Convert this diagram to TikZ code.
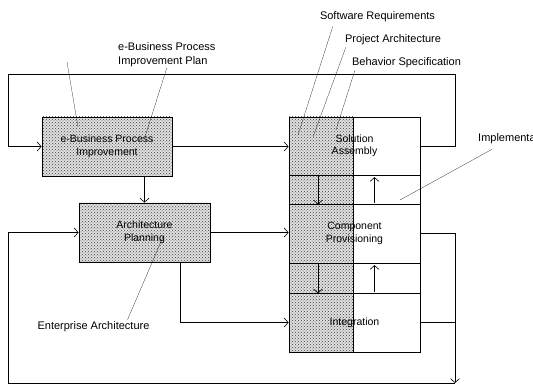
\documentclass[tikz,border=0pt]{standalone}
\usepackage{fontspec}
\setmainfont{Liberation Sans}
\usetikzlibrary{patterns,arrows.meta}

\tikzset{
  stipple/.style={preaction={fill=black!12}, pattern=crosshatch dots, pattern color=black!75},
  activity/.style={draw, thick, stipple, align=center, inner sep=0pt,
    minimum width=130pt, minimum height=59pt, font=\fontsize{10.5}{12.5}\selectfont},
  lane/.style={draw, thick, align=center, inner sep=0pt, minimum width=131pt,
    font=\fontsize{10.5}{12.5}\selectfont},
  flow/.style={semithick, ->},
  pointer/.style={very thin},
  lbl/.style={font=\fontsize{11}{14}\selectfont, align=left, inner sep=1pt}
}

\begin{document}
\begin{tikzpicture}[x=10pt,y=10pt,>={Straight Barb[length=4pt,width=9pt]}]
\useasboundingbox (0,0) rectangle (53.3,38.8);

% stippled left half of the phase column
\fill[stipple] (28.9,27.1) rectangle (35.3,3.6);

\node[activity] (ebpi) at (10.7,24.15) {e-Business Process\\Improvement};
\node[activity, minimum width=131pt] (arch) at (14.45,15.55) {Architecture\\Planning};

\node[lane, minimum height=58pt] (sa) at (35.45,24.2) {Solution\\Assembly};
\node[lane, minimum height=29pt] (g1) at (35.45,19.85) {};
\node[lane, minimum height=59pt] (cp) at (35.45,15.45) {Component\\Provisioning};
\node[lane, minimum height=30pt] (g2) at (35.45,11.0) {};
\node[lane, minimum height=59pt] (int) at (35.45,6.55) {Integration};

\coordinate (split) at (35.3,0);
\coordinate (dn) at (31.8,0);
\coordinate (up) at (37.45,0);
\coordinate (drop) at (18,0);
\coordinate (rgt) at (45.5,31.4);
\coordinate (lft) at (0.8,0.5);

\draw (sa.north -| split) -- (int.south -| split);

% main flow
\draw[flow] (ebpi.east) -- (ebpi.east -| sa.west);
\draw[flow] (arch.north |- ebpi.south) -- (arch.north);
\draw[flow] (arch.east) -- (arch.east -| cp.west);
\draw[flow] (arch.south -| drop) |- (int.west);

% feedback loops
\draw[flow] (sa.east) -| (rgt) -| (lft |- ebpi.west) -- (ebpi.west);
\draw[flow] (cp.east) -| (rgt |- lft);
\draw (int.east) -- (int.east -| rgt);
\draw[flow] (rgt |- lft) -- (lft) |- (arch.west);

% hand-over between phases
\foreach \g in {g1,g2} {
  \draw[flow] (\g.north -| dn) -- (\g.south -| dn);
  \draw[flow, shorten <=1.5pt, shorten >=2.5pt] (\g.south -| up) -- (\g.north -| up);
}

% labels
\node[lbl, anchor=west] (ebpip) at (11.7,33.35) {e-Business Process\\Improvement Plan};
\node[lbl] (swreq) at (37.75,37.1) {Software Requirements};
\node[lbl] (projarch) at (39.3,34.8) {Project Architecture};
\node[lbl] (behspec) at (40.65,32.5) {Behavior Specification};
\node[lbl, anchor=west] (impl) at (47.7,24.9) {Implementation};
\node[lbl] (entarch) at (9.35,6.1) {Enterprise Architecture};

\coordinate (loose) at (6.7,32.6);
\coordinate (t-loose) at (7.8,26.1);
\coordinate (t-plan) at (14.5,25.1);
\coordinate (t-sr) at (29.8,25.3);
\coordinate (t-pa) at (31.3,25.1);
\coordinate (t-bs) at (33.6,25.8);
\coordinate (t-impl) at (40.0,18.8);
\coordinate (t-ea) at (16.3,15.1);

\draw[pointer] (loose) -- (t-loose);
\draw[pointer] (ebpip.south) -- (t-plan);
\draw[pointer] ([xshift=14pt,yshift=-3pt]swreq.south west) -- (t-sr);
\draw[pointer] ([xshift=2pt,yshift=-1pt]projarch.south west) -- (t-pa);
\draw[pointer] ([xshift=4pt,yshift=-1pt]behspec.south west) -- (t-bs);
\draw[pointer] ([xshift=15pt,yshift=-4pt]impl.south west) -- (t-impl);
\draw[pointer] ([xshift=34pt,yshift=1pt]entarch.north) -- (t-ea);
\end{tikzpicture}
\end{document}
